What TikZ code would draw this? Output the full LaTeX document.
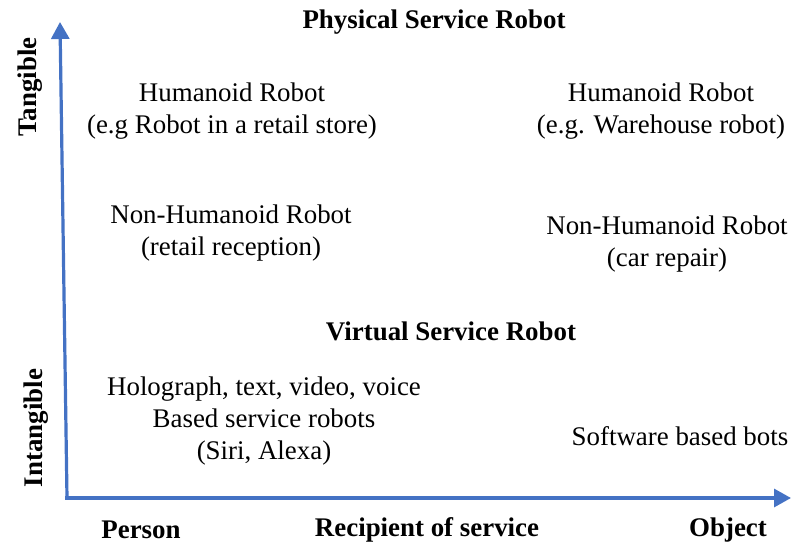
\documentclass[tikz,border=0pt]{standalone}
\usepackage{fontspec}
\setmainfont{Liberation Serif}
\usepackage{xcolor}
\usetikzlibrary{positioning,arrows.meta}
\definecolor{axisblue}{HTML}{4472C4}

\begin{document}
\begin{tikzpicture}[
    x=1bp, y=-1bp,
    txt/.style={
        align=center,
        inner sep=0pt,
        font=\fontsize{27}{32}\selectfont
    },
    head/.style={
        txt,
        font=\fontsize{27}{32}\selectfont\bfseries
    },
    axis/.style={
        draw=axisblue,
        line width=3.2bp,
        -{Triangle[length=17bp,width=18bp]}
    }
]
\useasboundingbox (0,0) rectangle (792,544);

% ---------------- AXES ----------------
\coordinate (origin) at (67,498);
\coordinate (ytip) at (60,22);
\coordinate (xtip) at (791,498);
\draw[axis] (origin) -- (ytip);
\draw[axis] ([xshift=-1.6bp]origin) -- (xtip);

% ---------------- AXIS LABELS ----------------
\node[head, rotate=90] (tangible) at (30,87) {Tangible};
\node[head, rotate=90] (intangible) at (36,428) {Intangible};
\node[head] (person) at (141,530) {Person};
\node[head] (recipient) at (427,530) {Recipient of service};
\node[head] (object) at (728,530) {Object};

% ---------------- PHYSICAL ----------------
\node[head] (physical) at (434,22) {Physical Service Robot};
\node[txt] (humleft) at (232,111) {Humanoid Robot\\(e.g Robot in a retail store)};
\node[txt] (humright) at (661,111) {Humanoid Robot\\(e.g. Warehouse robot)};
\node[txt] (nonleft) at (231,233) {Non-Humanoid Robot\\(retail reception)};
\node[txt] (nonright) at (667,244) {Non-Humanoid Robot\\(car repair)};

% ---------------- VIRTUAL ----------------
\node[head] (virtual) at (451,331) {Virtual Service Robot};
\node[txt] (holo) at (264,421) {Holograph, text, video, voice\\Based service robots\\(Siri, Alexa)};
\node[txt] (software) at (680,436) {Software based bots};

\end{tikzpicture}
\end{document}
